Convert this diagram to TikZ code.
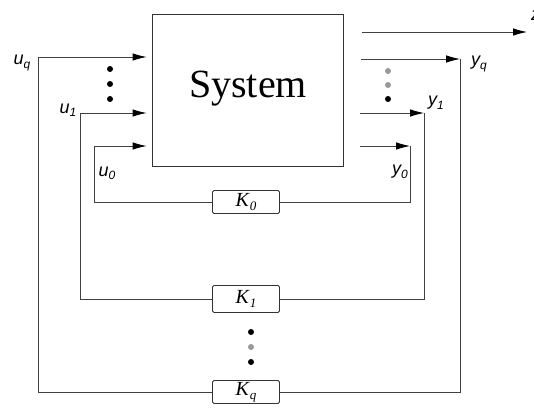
\documentclass[tikz,border=0pt]{standalone}
\usepackage{fontspec}
\setmainfont{Liberation Serif}
\newfontfamily\labfont{Liberation Sans}
\usetikzlibrary{arrows.meta}
\newcommand\mylab[2]{#1\raisebox{-0.35ex}{\fontsize{12}{12}\selectfont #2}}
\newcommand\kname[1]{\textit{K}\raisebox{-0.45ex}{\fontsize{13}{13}\selectfont\itshape #1}}
\begin{document}
\begin{tikzpicture}[x=1pt,y=-1pt,
  wire/.style={line width=0.8pt, draw=black!75},
  arr/.style={wire, -{Latex[length=14pt,width=7.5pt,black]}},
  kbox/.style={draw=black!80, line width=0.8pt, rounded corners=1.5pt, minimum width=67pt, minimum height=23pt, inner sep=0pt, font=\fontsize{20}{21}\selectfont},
  lbl/.style={font=\labfont\itshape\fontsize{18}{19}\selectfont, inner sep=0pt},
  dotb/.style={circle, fill=black, inner sep=0pt, minimum size=6pt},
  dotg/.style={dotb, fill=gray!80}]
\useasboundingbox (0,0) rectangle (534,412);
% system
\node[draw=black!80, line width=0.8pt, minimum width=191pt, minimum height=152pt, inner sep=0pt] (sys) at (247.5,90) {};
\node[font=\fontsize{40}{42}\selectfont, inner sep=0pt, anchor=base] (systxt) at (248,97) {System};
% gains
\node[kbox] (K0) at (246,202) {\kname{0}};
\node[kbox, minimum height=27pt] (K1) at (246,299) {\kname{1}};
\node[kbox] (Kq) at (246,392) {\kname{q}};
% corner coordinates
\coordinate (cuq) at (38,57);
\coordinate (cu1) at (80,113);
\coordinate (cu0) at (94,146);
\coordinate (cyq) at (460,59);
\coordinate (cy1) at (424,113);
\coordinate (cy0) at (410,146);
\coordinate (zend) at (527,32);
% inputs
\draw[arr, shorten >=5pt] (Kq.west) -| (cuq) -- (cuq -| sys.west);
\draw[arr, shorten >=5pt] (K1.west) -| (cu1) -- (cu1 -| sys.west);
\draw[arr, shorten >=5pt] (K0.west) -| (cu0) -- (cu0 -| sys.west);
% outputs
\draw[arr, shorten <=18pt] (cyq -| sys.east) -- (cyq);
\draw[wire] (cyq) |- (Kq.east);
\draw[arr, shorten <=17pt] (cy1 -| sys.east) -- (cy1);
\draw[wire] (cy1) |- (K1.east);
\draw[arr, shorten <=17pt] (cy0 -| sys.east) -- (cy0);
\draw[wire] (cy0) |- (K0.east);
\draw[arr, shorten <=19pt] (zend -| sys.east) -- (zend);
% labels
\node[lbl] (luq) at (22,63) {\mylab{u}{q}};
\node[lbl] (lu1) at (68,110) {\mylab{u}{1}};
\node[lbl] (lu0) at (107,173) {\mylab{u}{0}};
\node[lbl] (lyq) at (479,64) {\mylab{y}{q}};
\node[lbl] (ly1) at (436,103) {\mylab{y}{1}};
\node[lbl] (ly0) at (400,172) {\mylab{y}{0}};
\node[lbl, anchor=west] (lz) at (531,16) {z};
% dots
\node[dotb] (dl1) at (110,69) {};
\node[dotb] (dl2) at (110,84) {};
\node[dotb] (dl3) at (110,99) {};
\node[dotg] (dr1) at (388,71) {};
\node[dotg] (dr2) at (388,85) {};
\node[dotb] (dr3) at (388,99) {};
\node[dotb] (dk1) at (251,332) {};
\node[dotg] (dk2) at (251,347) {};
\node[dotb] (dk3) at (251,362) {};
\end{tikzpicture}
\end{document}
